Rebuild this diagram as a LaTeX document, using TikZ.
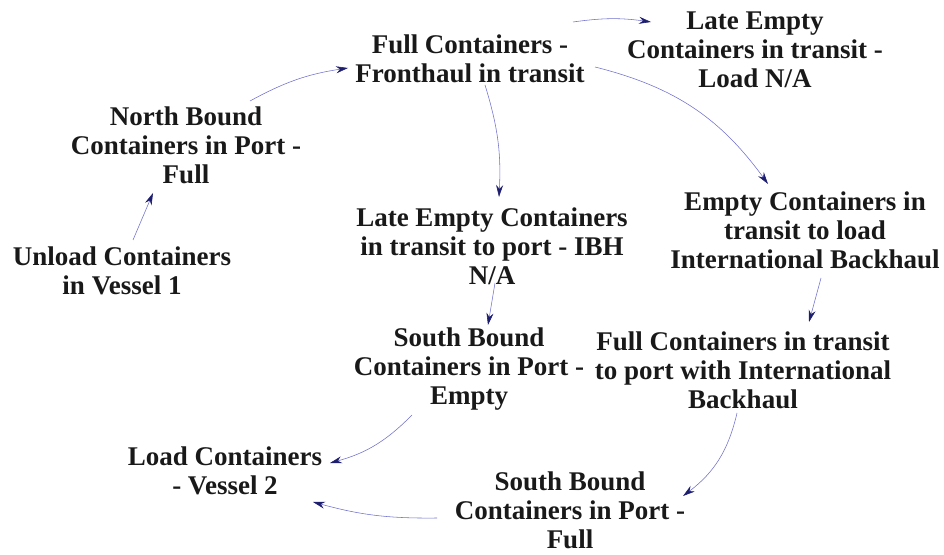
\documentclass[tikz,border=0pt]{standalone}
\usepackage{fontspec}
\setmainfont{Liberation Serif}
\usepackage{tikz}
\usetikzlibrary{arrows.meta, positioning}
\definecolor{flowline}{RGB}{110,110,205}
\definecolor{flowhead}{RGB}{30,30,110}
\definecolor{txtdark}{RGB}{25,25,25}
\tikzset{
  stock/.style={align=center, font=\fontsize{27}{29}\selectfont\bfseries,
    text=txtdark, inner sep=1pt},
  flow/.style={-{Stealth[length=12pt, width=7pt, color=flowhead]},
    line width=0.55pt, color=flowline}
}

\begin{document}
\begin{tikzpicture}[x=1pt, y=1pt]
  \useasboundingbox (0,0) rectangle (944,554);
  % container stocks
  \node[stock] (full) at (470,495) {Full Containers -\\Fronthaul in transit};
  \node[stock] (lateload) at (755,504) {Late Empty\\Containers in transit -\\Load N/A};
  \node[stock] (nbound) at (186,409) {North Bound\\Containers in Port -\\Full};
  \node[stock] (unload) at (122,283) {Unload Containers\\in Vessel 1};
  \node[stock] (lateibh) at (492,308) {Late Empty Containers\\in transit to port - IBH\\N/A};
  \node[stock] (emptyld) at (805,324) {Empty Containers in\\transit to load\\International Backhaul};
  \node[stock] (sbempty) at (469,185) {South Bound\\Containers in Port -\\Empty};
  \node[stock] (fullibh) at (743,184) {Full Containers in transit\\to port with International\\Backhaul};
  \node[stock] (loadv2) at (225,83) {Load Containers\\- Vessel 2};
  \node[stock] (sbfull) at (570,44) {South Bound\\Containers in Port -\\Full};
  % flows
  \draw[flow] ([shift={(11,31)}]unload.center) -- ([shift={(-33,-48)}]nbound.center);
  \draw[flow] ([shift={(64,44)}]nbound.center) to[bend left=10] ([shift={(-122,-9)}]full.center);
  \draw[flow] ([shift={(103,37)}]full.center) to[bend left=8] ([shift={(-104,28)}]lateload.center);
  \draw[flow] ([shift={(125,-8)}]full.center) to[bend left=20] ([shift={(-37,46)}]emptyld.center);
  \draw[flow] ([shift={(15,-26)}]full.center) to[bend left=10] ([shift={(7,49)}]lateibh.center);
  \draw[flow] ([shift={(3,-37)}]lateibh.center) -- ([shift={(19,44)}]sbempty.center);
  \draw[flow] ([shift={(16,-48)}]emptyld.center) -- ([shift={(66,48)}]fullibh.center);
  \draw[flow] ([shift={(-6,-43)}]fullibh.center) to[bend left=20] ([shift={(113,14)}]sbfull.center);
  \draw[flow] ([shift={(-57,-46)}]sbempty.center) to[bend left=15] ([shift={(105,8)}]loadv2.center);
  \draw[flow] ([shift={(-133,-8)}]sbfull.center) to[bend left=8] ([shift={(88,-31)}]loadv2.center);
\end{tikzpicture}
\end{document}
